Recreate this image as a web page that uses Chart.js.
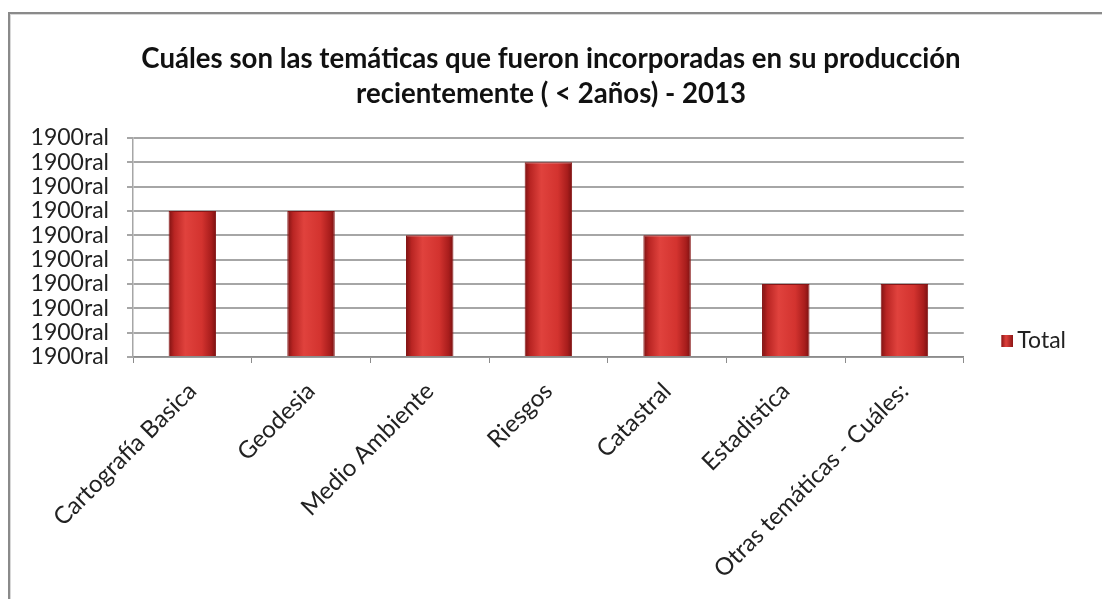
<!DOCTYPE html>
<html>
<head>
<meta charset="utf-8">
<script src="https://cdn.jsdelivr.net/npm/chart.js@4"></script>
<style>
  html, body { margin: 0; padding: 0; background: #fff; overflow: hidden; }
  #frame {
    position: absolute; left: 8px; top: 12px; width: 1200px; height: 700px;
    border-left: 2px solid #8a8a8a; border-top: 2px solid #8a8a8a;
    box-shadow: inset 1px 1px 0 #d8d8d8;
  }
  #wrap { position: absolute; left: 0; top: 0; width: 1102px; height: 599px; }
</style>
</head>
<body>
<div id="frame"></div>
<div id="wrap"><canvas id="chart" width="1102" height="599"></canvas></div>
<script>
const categories = ['Cartografía Basica', 'Geodesia', 'Medio Ambiente', 'Riesgos', 'Catastral', 'Estadistica', 'Otras temáticas - Cuáles:'];
const totals = [6, 6, 5, 8, 5, 3, 3];
const yTickLabels = ['1900ral', '1900ral', '1900ral', '1900ral', '1900ral', '1900ral', '1900ral', '1900ral', '1900ral', '1900ral'];
const titleLines = ['Cuáles son las temáticas que fueron incorporadas en su producción', 'recientemente ( < 2años) - 2013'];
const seriesName = 'Total';

const BAR_PCT = 0.4;

// horizontal shading like the excel "cylinder" bars
function barFill(context){
    const chart = context.chart;
    const xs = chart.scales.x;
    if(context.type !== 'data' || !xs || !xs.width){
        return '#c62b2a';
    }
    const cx = xs.getPixelForValue(context.dataIndex);
    const half = xs.width / categories.length * BAR_PCT / 2;
    const g = chart.ctx.createLinearGradient(cx - half, 0, cx + half, 0);
    g.addColorStop(0, '#7e1212');
    g.addColorStop(0.12, '#b92523');
    g.addColorStop(0.35, '#e0423d');
    g.addColorStop(0.7, '#d3332f');
    g.addColorStop(0.9, '#a81d1c');
    g.addColorStop(1, '#7a1111');
    return g;
}

// legend marker: small shaded square at the right end of a wider transparent image
function legendMarker(){
    const c = document.createElement('canvas');
    c.width = 52; c.height = 12;
    const k = c.getContext('2d');
    const g = k.createLinearGradient(40, 0, 52, 0);
    g.addColorStop(0, '#8a1414');
    g.addColorStop(0.4, '#e0423d');
    g.addColorStop(1, '#8a1414');
    k.fillStyle = g;
    k.fillRect(40, 0, 12, 12);
    return c;
}

const ctx = document.getElementById('chart');
const chart = new Chart(ctx, {
    type    : 'bar',
    data    : {
        labels  : categories,
        datasets: [{
            label: seriesName,
            data: totals,
            backgroundColor: barFill,
            borderColor: '#861616',
            borderWidth: 1,
            barPercentage: BAR_PCT,
            categoryPercentage: 1,
            pointStyle: legendMarker()
        }]
    },
    options : {
        responsive: false,
        animation: false,
        devicePixelRatio: 1,
        layout: {
            padding: { left: 26, top: 12, right: 26, bottom: 0 }
        },
        plugins: {
            title: {
                display: true,
                text: titleLines,
                color: '#111',
                font: { family: 'Lato', size: 27.6, weight: 'bold', lineHeight: '35px' },
                padding: { top: 30, bottom: 26 }
            },
            legend: {
                position: 'right',
                align: 'end',
                fullSize: false,
                labels: {
                    usePointStyle: true,
                    pointStyleWidth: 37,
                    padding: 5,
                    color: '#222',
                    font: { family: 'Lato', size: 23 }
                }
            },
            tooltip: { enabled: false }
        },
        scales  : {
            x   : {
                grid: {
                    offset: true,
                    drawOnChartArea: false,
                    drawTicks: true,
                    tickLength: 6,
                    color: '#8c8c8c'
                },
                border: { color: '#8c8c8c', width: 1.5 },
                ticks: {
                    autoSkip: false,
                    maxRotation: 45,
                    minRotation: 45,
                    padding: 14,
                    color: '#222',
                    font: { family: 'Lato', size: 24 }
                },
                afterFit: function(scale){ scale.height = 242; }
            },
            y   : {
                min: 0,
                max: 9,
                grid: {
                    color: '#a6a6a6',
                    lineWidth: 2,
                    tickLength: 6
                },
                border: { color: '#a6a6a6', width: 1.5 },
                ticks : {
                    autoSkip: false,
                    stepSize: 1,
                    padding: 18,
                    color: '#222',
                    font: { family: 'Lato', size: 23 },
                    callback: function(value, index){ return yTickLabels[index]; }
                },
                afterFit: function(scale){ scale.width = 107; }
            }
        }
    }
});
</script>
</body>
</html>
